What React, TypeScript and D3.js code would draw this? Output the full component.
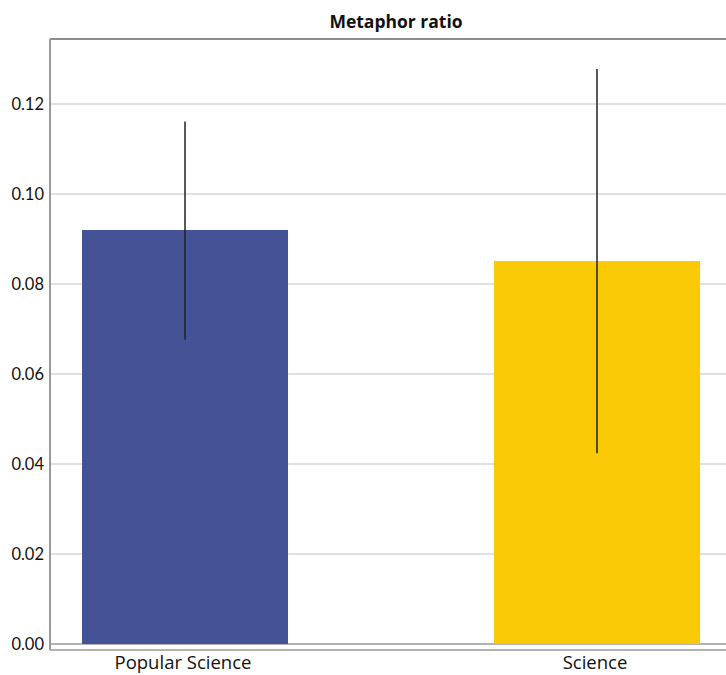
import React from "react";
import * as d3 from "d3";

const categories = ["Popular Science", "Science"];
const values = [0.092, 0.0851];
const errLow = [0.0676, 0.0424];
const errHigh = [0.1161, 0.1278];
const colors = ["#435396", "#fbca07"];
const yTicks = [0, 0.02, 0.04, 0.06, 0.08, 0.1, 0.12];

export default function App() {
  const W = 726, H = 675;
  const left = 50, top = 39, zeroY = 644, axisY = 650;
  const y = d3.scaleLinear().domain([0, 0.12]).range([zeroY, 104]);
  const x = d3.scaleBand<string>().domain(categories).range([left, 732]).paddingInner(0.5).paddingOuter(0.0777);
  const fmt = d3.format(".2f");
  return (
    <svg width={W} height={H} style={{ position: "absolute", left: 0, top: 0 }}>
      <rect width={W} height={H} fill="#fff" />
      <text x={396} y={28} textAnchor="middle" fontFamily="'Open Sans', sans-serif" fontWeight="bold" fontSize={17.5} fill="#111">Metaphor ratio</text>
      {yTicks.map((t) => (
        <g key={t}>
          <line x1={left} x2={W} y1={y(t)} y2={y(t)} stroke={t === 0 ? "#999" : "#d6d6d6"} strokeWidth={1.5} />
          <text x={44} y={y(t) + 5.5} textAnchor="end" fontFamily="Lato, sans-serif" fontSize={16.5} fill="#111">{fmt(t)}</text>
        </g>
      ))}
      <line x1={left} x2={W} y1={top} y2={top} stroke="#666" strokeWidth={1.5} />
      <line x1={left} x2={W} y1={axisY} y2={axisY} stroke="#999" strokeWidth={1.5} />
      <line x1={left} x2={left} y1={top} y2={axisY} stroke="#999" strokeWidth={2} />
      {categories.map((c, i) => {
        const bx = x(c)!;
        const cx = bx + x.bandwidth() / 2;
        return (
          <g key={c}>
            <rect x={bx} y={y(values[i])} width={x.bandwidth()} height={zeroY - y(values[i])} fill={colors[i]} />
            <line x1={cx} x2={cx} y1={y(errHigh[i])} y2={y(errLow[i])} stroke="#222" strokeWidth={1.5} />
            <text x={cx - 2} y={669} textAnchor="middle" fontFamily="'Open Sans', sans-serif" fontSize={18.5} fill="#111">{c}</text>
          </g>
        );
      })}
    </svg>
  );
}
